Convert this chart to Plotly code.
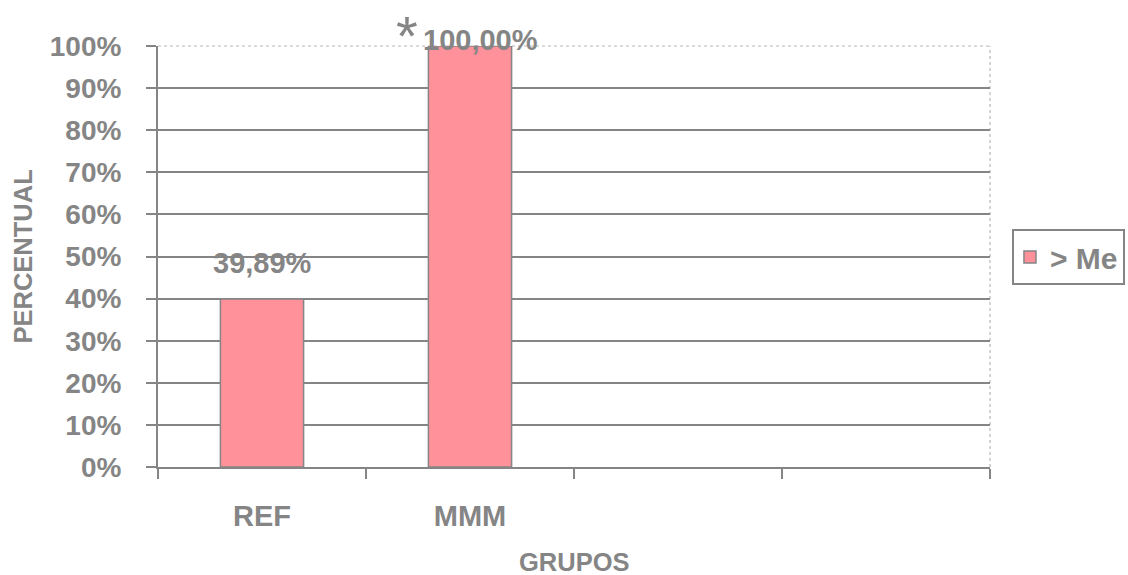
import plotly.graph_objects as go

# Data
groups = ["REF", "MMM"]
all_slots = ["REF", "MMM", " ", "  "]  # two empty category slots on the right
values = [39.89, 100.00]
markers = ["", "*"]  # significance mark shown before the value
series_name = "> Me"
y_ticks = [0, 10, 20, 30, 40, 50, 60, 70, 80, 90, 100]

GRAY = "#858585"
BAR = "#FF919B"
FONT = "Liberation Sans, Arial, sans-serif"

fig = go.Figure()
fig.add_trace(go.Bar(
    x=groups, y=values, name=series_name,
    marker=dict(color=BAR, line=dict(color=GRAY, width=1.5)),
    width=0.4, showlegend=True,
))


def fmt(v):
    return f"{v:.2f}".replace(".", ",") + "%"


# value labels: fixed offset above the bar, pulled down when it would leave the chart
plot_h = 421
for g, v, m in zip(groups, values, markers):
    top_px = plot_h * (1 - v / 100)  # distance from plot top
    shift = min(18, top_px - 12)
    xs = 10 if m else 0
    fig.add_annotation(
        x=g, y=v, xref="x", yref="y", text=fmt(v), showarrow=False,
        yanchor="bottom", yshift=shift, xshift=xs,
        font=dict(family=FONT, size=29, color=GRAY, weight="bold"),
    )
    if m:
        # significance mark, set just left of the value text
        fig.add_annotation(
            x=g, y=v, xref="x", yref="y", text=m, showarrow=False,
            xanchor="right", yanchor="bottom", yshift=shift - 11, xshift=xs - 60,
            font=dict(family=FONT, size=56, color=GRAY),
        )

# axis titles
fig.add_annotation(
    x=0, xref="paper", y=0.5, yref="paper", xshift=-152, text="PERCENTUAL",
    textangle=-90, showarrow=False,
    font=dict(family=FONT, size=25.5, color=GRAY, weight="bold"),
)
fig.add_annotation(
    x=0.5, xref="paper", y=0, yref="paper", yshift=-95, yanchor="middle",
    text="GRUPOS", showarrow=False,
    font=dict(family=FONT, size=25.5, color=GRAY, weight="bold"),
)

# plot-area border on top and right: light dotted line
fig.add_shape(type="line", xref="paper", yref="paper", x0=0, x1=1, y0=1, y1=1,
              line=dict(color="white", width=3), layer="between")
fig.add_shape(type="line", xref="paper", yref="paper", x0=0, x1=1, y0=1, y1=1,
              line=dict(color="#b8b8b8", width=1.2, dash="dot"), layer="between")
fig.add_shape(type="line", xref="paper", yref="paper", x0=1, x1=1, y0=0, y1=1,
              line=dict(color="#b8b8b8", width=1.2, dash="dot"), layer="between")

fig.update_layout(
    width=1128, height=575,
    margin=dict(l=158, r=138, t=46, b=108, autoexpand=False),
    paper_bgcolor="white", plot_bgcolor="white",
    font=dict(family=FONT, color=GRAY),
    bargap=0.6,
    xaxis=dict(
        type="category", categoryorder="array", categoryarray=all_slots,
        range=[-0.5, 3.5], tickson="boundaries", ticks="outside", ticklen=10,
        tickwidth=2, tickcolor=GRAY, showline=True, linecolor=GRAY, linewidth=2,
        showgrid=False, ticklabelstandoff=22,
        tickfont=dict(family=FONT, size=29, color=GRAY, weight="bold"),
        fixedrange=True,
    ),
    yaxis=dict(
        range=[0, 100], tickvals=y_ticks, ticktext=[f"{t}%" for t in y_ticks],
        ticks="outside", ticklen=10, tickwidth=2, tickcolor=GRAY,
        showline=True, linecolor=GRAY, linewidth=2,
        showgrid=True, gridcolor=GRAY, gridwidth=2, zeroline=False,
        ticklabelstandoff=19,
        tickfont=dict(family=FONT, size=28, color=GRAY, weight="bold"),
        fixedrange=True,
    ),
    legend=dict(
        x=1.0264, xanchor="left", y=0.5654, yanchor="top",
        bordercolor=GRAY, borderwidth=2, bgcolor="white",
        font=dict(family=FONT, size=30, color=GRAY, weight="bold"),
        itemwidth=30, indentation=-4,
    ),
)

fig.write_html("out.html")
